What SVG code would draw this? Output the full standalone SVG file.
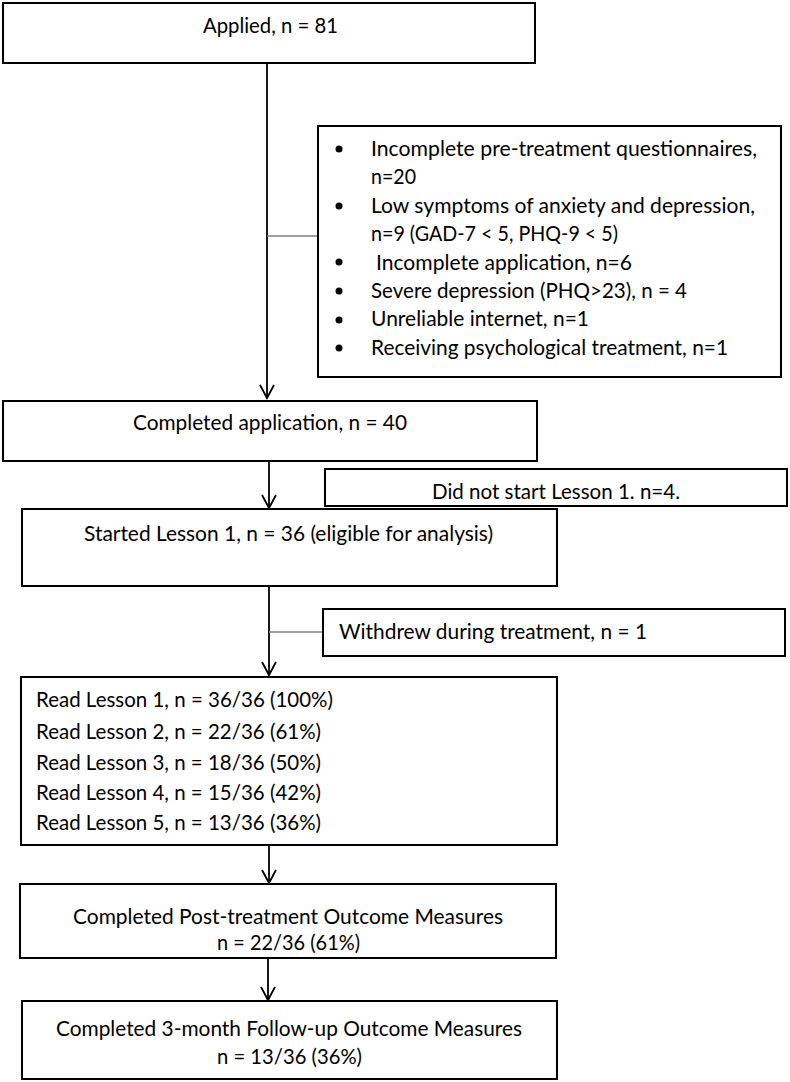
<svg xmlns="http://www.w3.org/2000/svg" width="790" height="1082" viewBox="0 0 790 1082">
<style>
  .box { fill: #fff; stroke: #000; stroke-width: 2; }
  .t { font-family: Lato, "Open Sans", "Liberation Sans", sans-serif; font-size: 20.5px; fill: #000; }
  .conn { stroke: #000; stroke-width: 1.8; fill: none; }
  .side { stroke: #808080; stroke-width: 1.6; fill: none; }
  .bullet { fill: #000; }
</style>
<rect width="790" height="1082" fill="#fff"/>

<g id="connectors">
  <path class="conn" d="M 267 63 V 398"/>
  <path class="conn" d="M 260 385 L 267 398 L 274 385"/>
  <path class="side" d="M 267 236 H 318"/>
  <path class="conn" d="M 269 461 V 508"/>
  <path class="conn" d="M 262 495 L 269 508 L 276 495"/>
  <path class="conn" d="M 269 586 V 675"/>
  <path class="conn" d="M 262 662 L 269 675 L 276 662"/>
  <path class="side" d="M 269 632 H 323"/>
  <path class="conn" d="M 269 845 V 883"/>
  <path class="conn" d="M 262 870 L 269 883 L 276 870"/>
  <path class="conn" d="M 268 958 V 1000"/>
  <path class="conn" d="M 261 987 L 268 1000 L 275 987"/>
</g>

<g id="applied">
  <rect class="box" x="3" y="3" width="532" height="60"/>
  <text class="t" x="203" y="33" textLength="135" lengthAdjust="spacingAndGlyphs">Applied, n = 81</text>
</g>

<g id="excluded">
  <rect class="box" x="318" y="126" width="463" height="251"/>
  <circle class="bullet" cx="339" cy="149" r="3.5"/>
  <circle class="bullet" cx="339" cy="206" r="3.5"/>
  <circle class="bullet" cx="339" cy="262" r="3.5"/>
  <circle class="bullet" cx="339" cy="291" r="3.5"/>
  <circle class="bullet" cx="339" cy="320" r="3.5"/>
  <circle class="bullet" cx="339" cy="348" r="3.5"/>
  <text class="t" x="371" y="156" textLength="386" lengthAdjust="spacingAndGlyphs">Incomplete pre-treatment questionnaires,</text>
  <text class="t" x="371" y="184.4" textLength="45" lengthAdjust="spacingAndGlyphs">n=20</text>
  <text class="t" x="371" y="212.8" textLength="384" lengthAdjust="spacingAndGlyphs">Low symptoms of anxiety and depression,</text>
  <text class="t" x="371" y="241.2" textLength="247" lengthAdjust="spacingAndGlyphs">n=9 (GAD-7 &lt; 5, PHQ-9 &lt; 5)</text>
  <text class="t" x="376" y="269.6" textLength="256" lengthAdjust="spacingAndGlyphs">Incomplete application, n=6</text>
  <text class="t" x="371" y="298" textLength="316" lengthAdjust="spacingAndGlyphs">Severe depression (PHQ&gt;23), n = 4</text>
  <text class="t" x="371" y="326.4" textLength="218" lengthAdjust="spacingAndGlyphs">Unreliable internet, n=1</text>
  <text class="t" x="371" y="354.8" textLength="357" lengthAdjust="spacingAndGlyphs">Receiving psychological treatment, n=1</text>
</g>

<g id="completed-application">
  <rect class="box" x="3" y="401" width="534" height="60"/>
  <text class="t" x="133" y="430" textLength="274" lengthAdjust="spacingAndGlyphs">Completed application, n = 40</text>
</g>

<g id="did-not-start">
  <rect class="box" x="325" y="469" width="462" height="37"/>
  <text class="t" x="432" y="499" textLength="248" lengthAdjust="spacingAndGlyphs">Did not start Lesson 1. n=4.</text>
</g>

<g id="started">
  <rect class="box" x="22" y="509" width="535" height="77"/>
  <text class="t" x="84" y="541" textLength="409" lengthAdjust="spacingAndGlyphs">Started Lesson 1, n = 36 (eligible for analysis)</text>
</g>

<g id="withdrew">
  <rect class="box" x="323" y="609" width="462" height="47"/>
  <text class="t" x="339" y="639" textLength="308" lengthAdjust="spacingAndGlyphs">Withdrew during treatment, n = 1</text>
</g>

<g id="lessons">
  <rect class="box" x="21" y="677" width="536" height="168"/>
  <text class="t" x="36" y="707" textLength="297" lengthAdjust="spacingAndGlyphs">Read Lesson 1, n = 36/36 (100%)</text>
  <text class="t" x="36" y="738.5" textLength="285" lengthAdjust="spacingAndGlyphs">Read Lesson 2, n = 22/36 (61%)</text>
  <text class="t" x="36" y="769.5" textLength="285" lengthAdjust="spacingAndGlyphs">Read Lesson 3, n = 18/36 (50%)</text>
  <text class="t" x="36" y="800" textLength="285" lengthAdjust="spacingAndGlyphs">Read Lesson 4, n = 15/36 (42%)</text>
  <text class="t" x="36" y="830" textLength="285" lengthAdjust="spacingAndGlyphs">Read Lesson 5, n = 13/36 (36%)</text>
</g>

<g id="post-treatment">
  <rect class="box" x="20" y="884" width="536" height="74"/>
  <text class="t" x="73" y="924" textLength="430" lengthAdjust="spacingAndGlyphs">Completed Post-treatment Outcome Measures</text>
  <text class="t" x="217" y="950" textLength="143" lengthAdjust="spacingAndGlyphs">n = 22/36 (61%)</text>
</g>

<g id="follow-up">
  <rect class="box" x="22" y="1001" width="535" height="78"/>
  <text class="t" x="56" y="1036" textLength="466" lengthAdjust="spacingAndGlyphs">Completed 3-month Follow-up Outcome Measures</text>
  <text class="t" x="217" y="1064" textLength="145" lengthAdjust="spacingAndGlyphs">n = 13/36 (36%)</text>
</g>
</svg>
